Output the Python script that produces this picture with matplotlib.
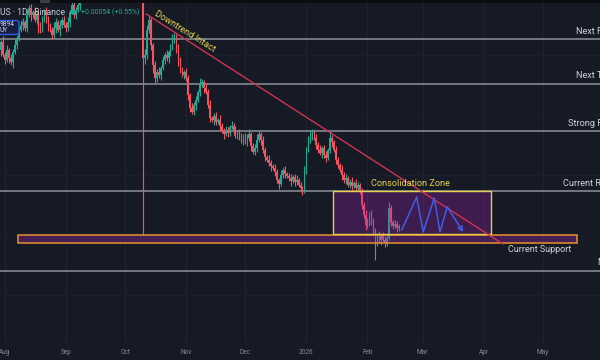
import numpy as np
import pandas as pd
import matplotlib
matplotlib.use("Agg")
import matplotlib.pyplot as plt
import matplotlib.dates as mdates
from matplotlib.patches import Rectangle, FancyBboxPatch

plt.rcParams['font.family'] = ['Roboto', 'DejaVu Sans']

# daily closes from 2025-07-27 (price scale is arbitrary, screenshot has no axis)
close = (
    [360, 355, 350, 358, 345] +
    [340, 350, 342, 338, 348, 355, 362, 370, 375, 378, 372, 385, 392, 385, 388, 380,
     385, 372, 370, 382, 388, 380, 375, 370, 365, 372, 378, 370, 375, 380, 375] +
    [372, 378, 388, 395, 385, 390, 395, 405, 415] +
    [420, 425, 430, 428, 435, 440, 432, 438, 445, 440, 435, 430, 425, 428, 432,
     436, 440, 445, 450, 455, 448, 442, 438, 435, 440, 445, 450, 452, 448, 445] +
    [342, 345, 370, 380, 355, 335, 322, 328, 325, 332, 340, 345, 342, 348, 352,
     360, 364, 352, 338, 330, 325, 328] +
    [322, 305, 292, 288, 295, 300, 308, 316, 318, 312, 308, 295, 282, 280, 284,
     278, 280, 274, 270, 266, 270, 267, 273, 274, 270, 265, 268, 262, 260, 264] +
    [258, 262, 266, 254, 248, 252, 260, 266, 260, 250, 243, 240, 237, 234, 232, 228,
     220, 216, 225, 230, 226, 224, 222, 219, 223, 218, 220, 215, 212, 210, 230] +
    [250, 260, 265, 268, 262, 255, 250, 247, 252, 245, 242, 250, 262, 258, 250, 240,
     235, 230, 225, 220, 222, 215, 218, 214, 217, 212, 215, 208, 195, 185, 175] +
    [178, 185, 180, 168, 158, 164, 160, 165, 160, 157, 162, 192, 178, 174, 176, 172, 174]
)
wick_up = (
    [4, 3, 5, 2, 6] +
    [3, 5, 2, 4, 3, 6, 2, 3, 5, 4, 2, 6, 3, 4, 2, 5, 3, 4, 6, 2, 3, 5, 4, 2, 3, 6, 4, 2, 5, 3, 4] +
    [3, 5, 2, 4, 6, 3, 2, 4, 3] +
    [3, 4, 2, 5, 3, 4, 2, 3, 5, 2, 4, 3, 2, 5, 3, 4, 2, 3, 5, 2, 4, 3, 2, 5, 3, 4, 2, 3, 5, 2] +
    [8, 6, 5, 4, 3, 2, 4, 3, 5, 2, 4, 3, 5, 2, 4, 6, 3, 2, 4, 5, 3, 2] +
    [4, 3, 2, 5, 3, 4, 2, 6, 3, 2, 4, 3, 5, 2, 3, 4, 2, 5, 3, 2, 4, 3, 2, 5, 3, 4, 2, 3, 5, 2] +
    [3, 4, 5, 2, 3, 4, 6, 3, 2, 4, 3, 2, 5, 3, 2, 4, 3, 2, 5, 3, 4, 2, 3, 4, 2, 3, 5, 2, 3, 2, 4] +
    [3, 4, 5, 3, 2, 4, 3, 5, 2, 3, 4, 2, 6, 3, 2, 4, 3, 2, 5, 3, 4, 2, 3, 5, 2, 4, 3, 2, 4, 3, 5] +
    [4, 3, 5, 2, 4, 3, 5, 2, 3, 4, 2, 6, 3, 2, 4, 3, 2]
)
wick_dn = (
    [3, 5, 4, 6, 2] +
    [4, 2, 5, 3, 6, 2, 4, 3, 2, 5, 3, 4, 2, 6, 3, 2, 4, 5, 3, 2, 4, 3, 6, 2, 4, 3, 5, 2, 6, 3, 2] +
    [4, 3, 5, 2, 3, 4, 2, 5, 3] +
    [2, 4, 3, 5, 2, 3, 4, 2, 5, 3, 2, 4, 3, 5, 2, 3, 4, 2, 5, 3, 2, 4, 3, 5, 2, 3, 4, 2, 5, 3] +
    [177, 6, 4, 3, 5, 8, 6, 4, 3, 5, 2, 4, 3, 5, 4, 2, 3, 5, 4, 3, 2, 4] +
    [3, 5, 4, 2, 3, 5, 2, 4, 3, 5, 2, 3, 4, 2, 5, 3, 2, 4, 3, 5, 2, 4, 3, 2, 5, 3, 4, 2, 3, 5] +
    [2, 4, 3, 5, 2, 3, 4, 2, 5, 3, 4, 2, 3, 5, 2, 4, 3, 5, 2, 3, 4, 2, 3, 5, 2, 4, 3, 2, 4, 5, 3] +
    [4, 2, 3, 5, 2, 4, 3, 2, 5, 3, 4, 2, 3, 5, 2, 4, 3, 2, 5, 3, 4, 2, 3, 5, 2, 4, 3, 2, 4, 3, 5] +
    [3, 4, 5, 3, 18, 4, 3, 5, 2, 4, 3, 2, 4, 3, 2, 4, 3]
)
assert len(close) == len(wick_up) == len(wick_dn)

# drawn levels (price) and their labels
levels = [361, 316.5, 269, 209, 129.5]
level_labels = ["Next Resistance", "Next Target", "Strong Resistance", "Current Resistance", "Major Support"]
label_x = [0.96, 0.96, 0.947, 0.938, 0.996]

support_zone = ("2025-08-07 18:00", "2026-05-18 10:00", 156.7, 165.3)
consol_zone = ("2026-01-14 17:00", "2026-04-04 17:00", 166.0, 209.3)
trend_dates = ["2025-10-11 17:00", "2026-04-10 19:00"]
trend_prices = [386, 156]
zig_dates = ["2026-02-18 10:00", "2026-02-26 00:00", "2026-03-01 07:00", "2026-03-06 22:00",
             "2026-03-09 19:00", "2026-03-13 12:00", "2026-03-21 14:00"]
zig_prices = [170, 203, 168, 202, 168, 193, 168]

months = ["2025-08-01", "2025-09-01", "2025-10-01", "2025-11-01", "2025-12-01",
          "2026-01-01", "2026-02-01", "2026-03-01", "2026-04-01", "2026-05-01"]
month_labels = ["Aug", "Sep", "Oct", "Nov", "Dec", "2026", "Feb", "Mar", "Apr", "May"]

bg = '#161a25'
up_col, dn_col = '#22ab94', '#f7525f'
yellow = '#e6d24a'

fig = plt.figure(figsize=(6, 3.6), dpi=100)
fig.patch.set_facecolor(bg)
ax = fig.add_axes([0, 17 / 360, 1, 343 / 360])
ax.set_facecolor(bg)
for s in ax.spines.values():
    s.set_visible(False)

dates = pd.date_range("2025-07-27", periods=len(close), freq="D")
xd = mdates.date2num(dates)
c = np.array(close, float)
o = np.r_[c[0], c[:-1]]
hi = np.maximum(o, c) + np.array(wick_up)
lo = np.minimum(o, c) - np.array(wick_dn)
cols = np.where(c >= o, up_col, dn_col)

aug1 = mdates.date2num(pd.Timestamp("2025-08-01"))
ax.set_xlim(aug1 - 2.54, aug1 + 302.03)
ax.set_ylim(57, 400)

# faint grid
mx = mdates.date2num(pd.to_datetime(months))
for m in mx:
    ax.axvline(m, color='#1f2430', lw=0.7, zorder=0)
for g in [345, 285, 225, 165, 105]:
    ax.axhline(g, color='#1d212c', lw=0.6, zorder=0)

for lv in levels:
    ax.axhline(lv, color='#8e919b', lw=1.1, zorder=1)

ax.vlines(xd, lo, hi, colors=cols, lw=0.8, zorder=2)
ax.bar(xd, np.maximum(np.abs(c - o), 0.8), bottom=np.minimum(o, c), width=0.8,
       color=cols, linewidth=0, zorder=2)

# zones
sx0, sx1 = mdates.date2num(pd.to_datetime(list(support_zone[:2])))
ax.add_patch(Rectangle((sx0, support_zone[2]), sx1 - sx0, support_zone[3] - support_zone[2],
                       facecolor='#9c27b0', alpha=0.35, edgecolor='none', zorder=3))
ax.add_patch(Rectangle((sx0, support_zone[2]), sx1 - sx0, support_zone[3] - support_zone[2],
                       facecolor='none', edgecolor='#e8922c', lw=1.1, zorder=3))
cx0, cx1 = mdates.date2num(pd.to_datetime(list(consol_zone[:2])))
ax.add_patch(Rectangle((cx0, consol_zone[2]), cx1 - cx0, consol_zone[3] - consol_zone[2],
                       facecolor='#9c27b0', alpha=0.3, edgecolor='none', zorder=3))
ax.add_patch(Rectangle((cx0, consol_zone[2]), cx1 - cx0, consol_zone[3] - consol_zone[2],
                       facecolor='none', edgecolor=yellow, lw=1.0, zorder=3))

# trend line
ax.plot(mdates.date2num(pd.to_datetime(trend_dates)), trend_prices, color='#cf3350', lw=1.0, zorder=4)

# projected zigzag
zx = mdates.date2num(pd.to_datetime(zig_dates))
ax.plot(zx[:-1], zig_prices[:-1], color='#3d5ee6', lw=1.1, zorder=5)
ax.annotate('', xy=(zx[-1], zig_prices[-1]), xytext=(zx[-2], zig_prices[-2]),
            arrowprops=dict(arrowstyle='->', color='#3d5ee6', lw=1.1, mutation_scale=8,
                            shrinkA=0, shrinkB=0), zorder=5)

# annotations
ax.text(mdates.date2num(pd.Timestamp("2025-10-31 03:00")), 369, "Downtrend Intact",
        color=yellow, fontsize=6.6, rotation=-32, ha='center', va='center',
        rotation_mode='anchor', zorder=6)
ax.text(mdates.date2num(pd.Timestamp("2026-02-02 20:00")), 217, "Consolidation Zone",
        color=yellow, fontsize=6.6, ha='left', va='center', zorder=6)
ax.text(mdates.date2num(pd.Timestamp("2026-04-13 08:00")), 150, "Current Support",
        color='#d1d4dc', fontsize=6.5, ha='left', va='center', zorder=6)
for lv, lab, lx in zip(levels, level_labels, label_x):
    ax.text(lx, lv + 8, lab, transform=ax.get_yaxis_transform(), color='#d1d4dc',
            fontsize=6.6, ha='left', va='center', zorder=6)

ax.set_yticks([])
ax.set_xticks(mx)
ax.set_xticklabels(month_labels)
ax.tick_params(axis='x', length=0, labelsize=4.7, colors='#868993', pad=4)

# header overlay (TradingView legend)
fig.patches.append(Rectangle((0, 1 - 3 / 360), 1, 3 / 360, transform=fig.transFigure,
                             facecolor='#0c0d11', edgecolor='none'))
fig.patches.append(Rectangle((40 / 600, 1 - 2.5 / 360), 10 / 600, 2.5 / 360, transform=fig.transFigure,
                             facecolor='#3a3d46', edgecolor='none'))
fig.text(0.0, 1 - 12.5 / 360, "US · 1D · Binance", color='#c9ccd4', fontsize=6.2, ha='left', va='center')
fig.patches.append(Rectangle((70 / 600, 1 - 14 / 360), 4.5 / 600, 4.5 / 360, transform=fig.transFigure,
                             facecolor='#22ab94', edgecolor='none'))
fig.text(81 / 600, 1 - 12.5 / 360, "+0.00054 (+0.55%)", color='#22ab94', fontsize=5.0, ha='left', va='center')
fig.patches.append(FancyBboxPatch((-3 / 600, 1 - 34.5 / 360), 22 / 600, 14 / 360,
                                  boxstyle="round,pad=0,rounding_size=0.006", transform=fig.transFigure,
                                  facecolor='#17203a', edgecolor='#2f5be8', lw=1.0))
fig.text(0.0, 1 - 24.5 / 360, "9894", color='#c9d4ff', fontsize=4.8, ha='left', va='center')
fig.text(0.0, 1 - 31 / 360, "UY", color='#c9d4ff', fontsize=4.8, ha='left', va='center')

fig.savefig("out.png", dpi=100, facecolor=bg)
